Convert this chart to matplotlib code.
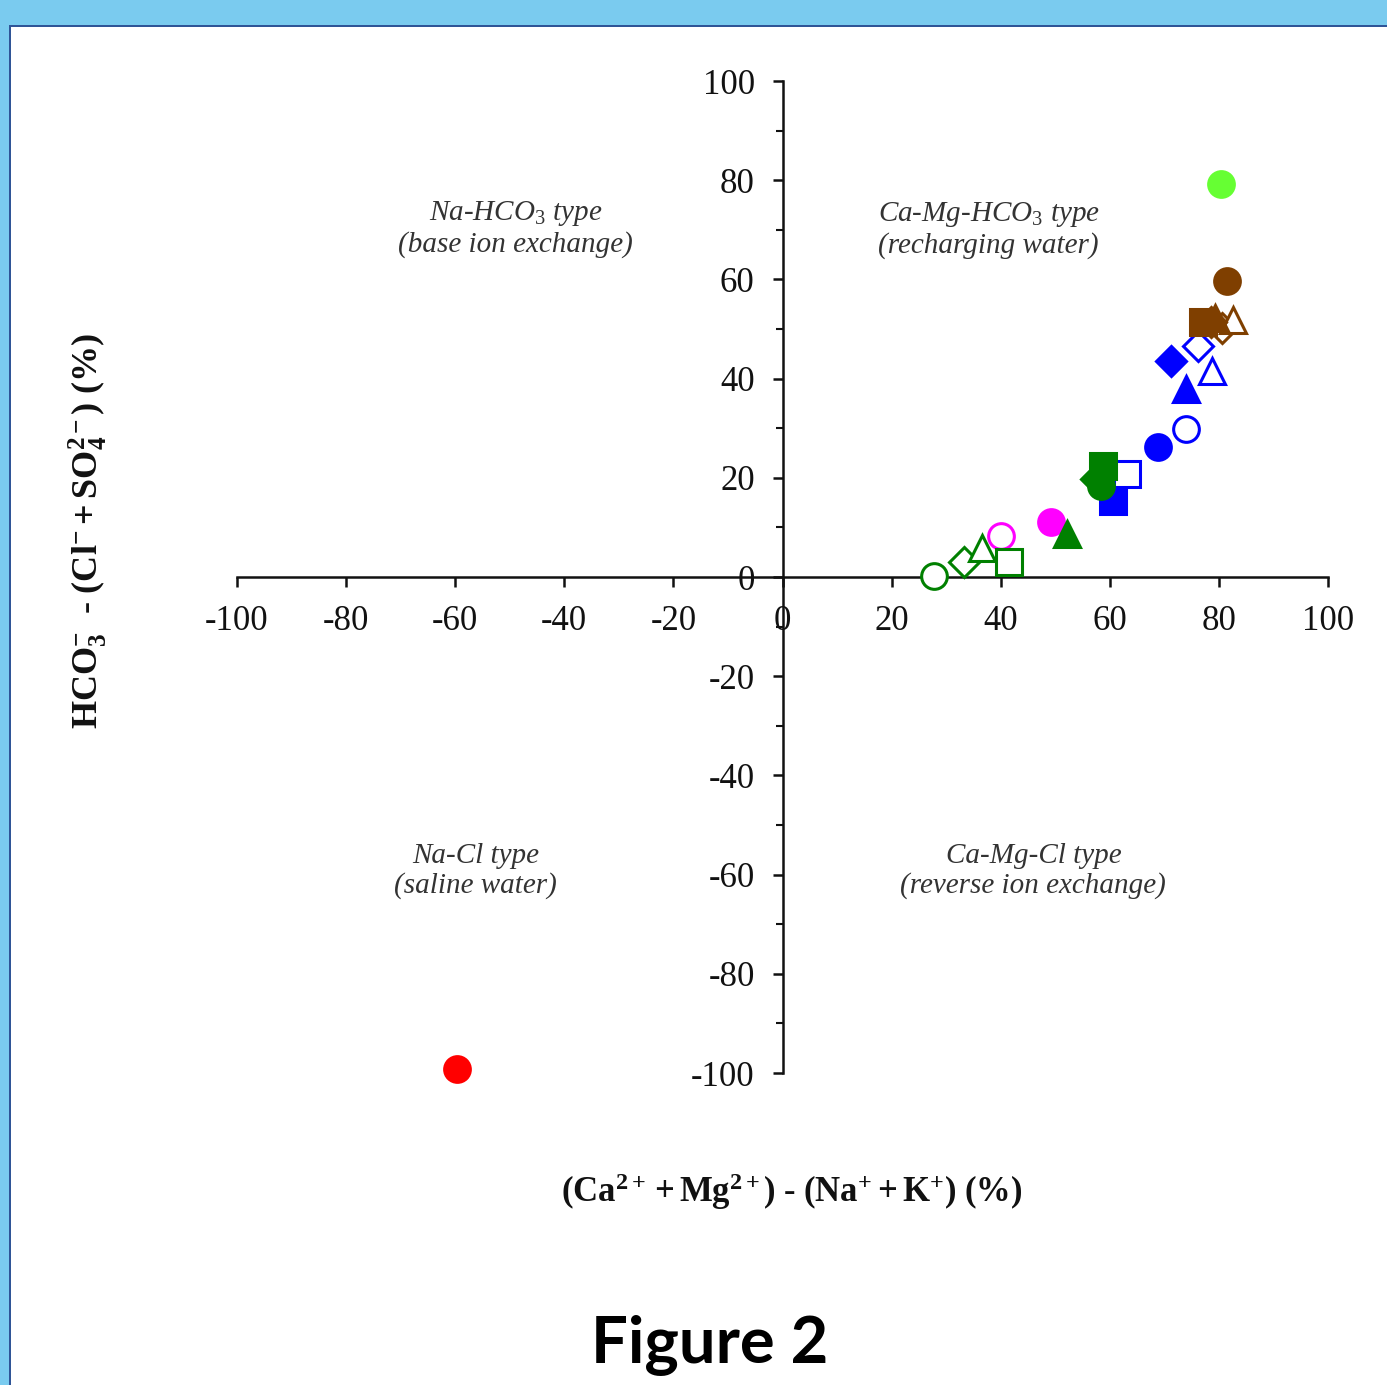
import matplotlib
matplotlib.use('Agg')
import matplotlib.pyplot as plt
from matplotlib.patches import Rectangle
from matplotlib.ticker import MultipleLocator

# marker shapes used for each sample group: circle, diamond, triangle, square
shapes = ['o', 'D', '^', 's']

green_open_x = [27.7, 33.2, 36.5, 41.6]
green_open_y = [0.2, 3.0, 5.8, 3.0]
green_fill_x = [58.3, 57.4, 52.2, 58.8]
green_fill_y = [18.3, 19.7, 8.7, 22.4]

blue_open_x = [73.9, 76.1, 78.8, 63.2]
blue_open_y = [29.8, 46.5, 41.5, 20.7]
blue_fill_x = [68.9, 71.3, 74.0, 60.5]
blue_fill_y = [26.2, 43.5, 37.9, 15.3]

brown_open_shapes = ['D', '^']
brown_open_x = [80.6, 82.6]
brown_open_y = [50.3, 51.8]
brown_fill_x = [81.4, 78.5, 79.2, 77.0]
brown_fill_y = [59.6, 51.4, 52.2, 51.4]

magenta_open_x = [40.0]
magenta_open_y = [8.3]
magenta_fill_x = [49.3]
magenta_fill_y = [11.1]

lime_x = [80.3]
lime_y = [79.2]
red_x = [-59.6]
red_y = [-99.1]

GREEN = '#008000'
BLUE = '#0000FF'
BROWN = '#7F3F00'
MAGENTA = '#FF00FF'
LIME = '#66FF33'
RED = '#FF0000'

plt.rcParams['axes.unicode_minus'] = False
plt.rcParams['mathtext.fontset'] = 'custom'
plt.rcParams['mathtext.rm'] = 'Liberation Serif'
plt.rcParams['mathtext.it'] = 'Liberation Serif:italic'
plt.rcParams['mathtext.bf'] = 'Liberation Serif:bold'

fig = plt.figure(figsize=(13.87, 13.85), dpi=100)
fig.patch.set_facecolor('white')

# slide-like frame
fig.add_artist(Rectangle((0, 1 - 25 / 1385), 1, 25 / 1385, transform=fig.transFigure,
                         facecolor='#7ACBEF', edgecolor='none'))
fig.add_artist(Rectangle((0, 0), 9 / 1387, 1, transform=fig.transFigure,
                         facecolor='#7ACBEF', edgecolor='none'))
fig.add_artist(Rectangle((9 / 1387, 1 - 27 / 1385), 1, 2 / 1385, transform=fig.transFigure,
                         facecolor='#2F5597', edgecolor='none'))
fig.add_artist(Rectangle((9 / 1387, 0), 2 / 1387, 1 - 25 / 1385, transform=fig.transFigure,
                         facecolor='#2F5597', edgecolor='none'))

ax = fig.add_axes([237 / 1387, 1 - 1073 / 1385, (1328 - 237) / 1387, (1073 - 81) / 1385])
ax.set_facecolor('none')
ax.set_xlim(-100, 100)
ax.set_ylim(-100, 100)

ms = 18.5
mew = 2.2


def draw(xs, ys, marks, color, filled):
    for x, y, m in zip(xs, ys, marks):
        size = ms * 0.8 if m == 'D' else ms
        ax.plot(x, y, marker=m, ms=size, mew=mew, color=color,
                mfc=color if filled else 'white', mec=color,
                linestyle='none', clip_on=False, zorder=3)


draw(magenta_open_x, magenta_open_y, ['o'], MAGENTA, False)
draw(magenta_fill_x, magenta_fill_y, ['o'], MAGENTA, True)
draw(blue_open_x, blue_open_y, shapes, BLUE, False)
draw(blue_fill_x, blue_fill_y, shapes, BLUE, True)
draw(green_open_x, green_open_y, shapes, GREEN, False)
draw(green_fill_x, green_fill_y, shapes, GREEN, True)
draw(brown_open_x, brown_open_y, brown_open_shapes, BROWN, False)
draw(brown_fill_x, brown_fill_y, shapes, BROWN, True)
draw(lime_x, lime_y, ['o'], LIME, True)
draw(red_x, red_y, ['o'], RED, True)

for side in ['top', 'right']:
    ax.spines[side].set_visible(False)
for side in ['left', 'bottom']:
    ax.spines[side].set_position(('data', 0))
    ax.spines[side].set_linewidth(1.8)
    ax.spines[side].set_color('#111111')

ax.xaxis.set_major_locator(MultipleLocator(20))
ax.yaxis.set_major_locator(MultipleLocator(20))
ax.yaxis.set_minor_locator(MultipleLocator(10))
ax.tick_params(axis='x', which='major', direction='out', length=7, width=1.8,
               pad=13, labelsize=25, colors='#111111')
ax.tick_params(axis='y', which='major', direction='out', length=7, width=1.8,
               pad=13, labelsize=25, colors='#111111')
ax.tick_params(axis='y', which='minor', direction='out', length=5, width=1.5,
               colors='#111111')
for lab in ax.get_xticklabels() + ax.get_yticklabels():
    lab.set_family('Liberation Serif')

note = dict(ha='center', va='center', fontsize=21, style='italic',
            family='Liberation Serif', color='#333333', linespacing=1.15)
ax.text(-48.9, 70.3, 'Na-HCO$_3$ type\n(base ion exchange)', **note)
ax.text(37.8, 70.1, 'Ca-Mg-HCO$_3$ type\n(recharging water)', **note)
ax.text(-56.3, -59.2, 'Na-Cl type\n(saline water)', **note)
ax.text(46.0, -59.2, 'Ca-Mg-Cl type\n(reverse ion exchange)', **note)

fig.text(792 / 1387, 1 - 1192 / 1385,
         r'$\mathbf{(Ca^{2+} + Mg^{2+})\ \text{-}\ (Na^{+} + K^{+})\ (\%)}$',
         ha='center', va='center', fontsize=25, color='#111111')
fig.text(88 / 1387, 1 - 531 / 1385,
         r'$\mathbf{HCO_3^{-}\ \ \text{-}\ (Cl^{-} + SO_4^{2-})\ (\%)}$',
         ha='center', va='center', rotation=90, fontsize=26, color='#111111')

fig.text(710 / 1387, 1 - 1346 / 1385, 'Figure 2', ha='center', va='center',
         fontsize=47, fontweight='bold', family='Lato', color='black')

fig.savefig('out.png', dpi=100, facecolor=fig.get_facecolor())
